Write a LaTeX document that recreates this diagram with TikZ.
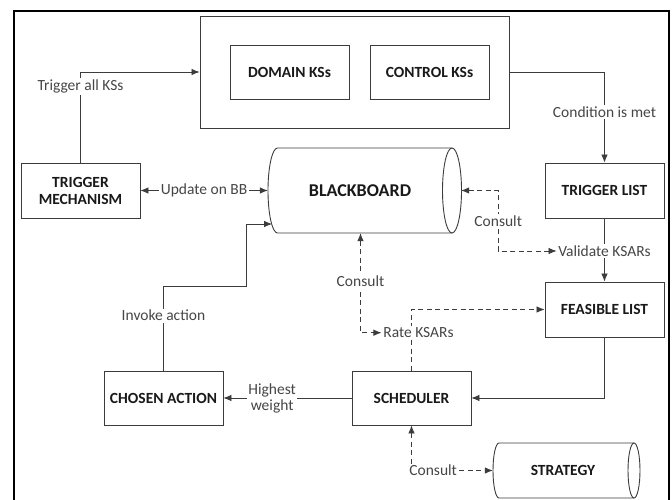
\documentclass[tikz,border=0pt]{standalone}
\usepackage{fontspec}
\setmainfont{Carlito}
\usetikzlibrary{arrows.meta}
\definecolor{ln}{RGB}{60,60,60}
\definecolor{lbl}{RGB}{70,70,70}
\definecolor{txt}{RGB}{25,25,25}
\tikzset{
  boxnode/.style={draw=ln, line width=0.9pt, minimum width=119pt, minimum height=55pt, inner sep=0pt, font=\fontsize{15.5}{17}\selectfont\bfseries, text=txt, align=center},
  cylline/.style={draw=ln, line width=0.9pt},
  conn/.style={draw=ln, line width=0.8pt},
  tip/.style={-{Latex[length=8pt,width=6.5pt]}},
  bitip/.style={{Latex[length=8pt,width=6.5pt]}-{Latex[length=8pt,width=6.5pt]}},
  dsh/.style={dash pattern=on 5pt off 3.5pt},
  lab/.style={fill=white, inner sep=1.5pt, text=lbl, font=\fontsize{15.5}{17}\selectfont},
}
\begin{document}
\begin{tikzpicture}[x=1pt,y=-1pt]
\clip (0,0) rectangle (672,500);
\fill[white] (0,0) rectangle (672,500);
\draw[black, line width=2pt] (14,11) rectangle (669,520);

% KS group
\node[draw=ln, line width=0.9pt, minimum width=309pt, minimum height=112pt, inner sep=0pt] (ks) at (354.5,72) {};
\node[boxnode, minimum height=54pt] (dom) at (289.5,72) {DOMAIN KSs};
\node[boxnode, minimum height=54pt] (ctl) at (429.5,72) {CONTROL KSs};

\node[boxnode] (tmech) at (80.5,190.5) {TRIGGER\\MECHANISM};
\node[boxnode] (tlist) at (604.5,190.5) {TRIGGER LIST};
\node[boxnode] (flist) at (604.5,309.5) {FEASIBLE LIST};
\node[boxnode, minimum height=54pt] (sched) at (411.5,398) {SCHEDULER};
\node[boxnode, minimum height=54pt] (chosen) at (163.5,398) {CHOSEN ACTION};

% BLACKBOARD cylinder: x 268..461, y 148..233, rx 9.5, ry 42.5
\node[minimum width=193pt, minimum height=85pt, inner sep=0pt] (bb) at (364.5,190.5) {};
\draw[cylline] (277.5,148) -- (452,148)
  (452,233) -- (277.5,233)
  .. controls (272.26,233) and (268,213.97) .. (268,190.5)
  .. controls (268,167.03) and (272.26,148) .. (277.5,148);
\draw[cylline] (452,190.5) ellipse [x radius=9.5, y radius=42.5];
\node[font=\fontsize{18}{20}\selectfont\bfseries, text=txt] (bbt) at (360,191) {BLACKBOARD};

% STRATEGY cylinder: x 493..640, y 443..498, rx 6, ry 27.5
\node[minimum width=147pt, minimum height=55pt, inner sep=0pt] (strat) at (566.5,470.5) {};
\draw[cylline] (499,443) -- (634,443)
  (634,498) -- (499,498)
  .. controls (495.69,498) and (493,485.69) .. (493,470.5)
  .. controls (493,455.31) and (495.69,443) .. (499,443);
\draw[cylline] (634,470.5) ellipse [x radius=6, y radius=27.5];
\node[font=\fontsize{15.5}{17}\selectfont\bfseries, text=txt] (stratt) at (563,470) {STRATEGY};

\coordinate (bbin) at (272,224);

% connectors
\draw[conn, tip] (tmech.north) |- node[lab, pos=0.42] {Trigger all KSs} (ks.west);
\draw[conn, tip] (ks.east) -| node[lab, pos=0.72] {Condition is met} (tlist.north);
\draw[conn, bitip] (tmech.east) -- node[lab, pos=0.5] {Update on BB} (bb.west);

\node[lab] (val) at (604.5,251) {Validate KSARs};
\draw[conn] (tlist.south) -- (val.north);
\draw[conn, tip] (val.south) -- (flist.north);
\draw[conn, dsh, bitip] (bb.east) -- ++(37,0) |- node[lab, pos=0.25] {Consult} (val.west);

\draw[conn, dsh, tip] (sched.north) |- node[lab, pos=0.31, xshift=7pt] (rate) {Rate KSARs} (flist.west);
\draw[conn, dsh, bitip] ([xshift=-4pt]bb.south) |- node[lab, pos=0.24] {Consult} (rate.west);

\draw[conn, tip] (flist.south) |- (sched.east);
\draw[conn, tip] (sched.west) -- node[lab, pos=0.62, align=center, font=\fontsize{15.5}{16}\selectfont] {Highest\\weight} (chosen.east);
\draw[conn, tip] (chosen.north) -- node[lab, pos=0.65] {Invoke action} (163.5,286) -- (246,286) -- (246,224) -- (bbin);

\draw[conn, dsh, bitip] (sched.south) |- node[lab, pos=0.5, anchor=west, xshift=-4pt] {Consult} (strat.west);
\end{tikzpicture}
\end{document}
